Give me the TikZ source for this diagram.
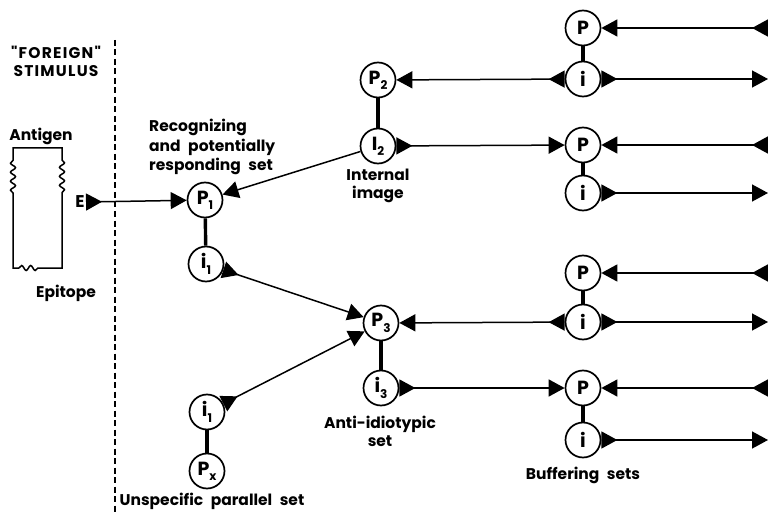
\documentclass[tikz,border=0pt]{standalone}
\usepackage{fontspec}
\setmainfont{Poppins}[WordSpace=2.3]
\newfontfamily\capsfont{Poppins}[LetterSpace=8]
\usetikzlibrary{arrows.meta,decorations.pathmorphing}
\newcommand{\sbs}[1]{\raisebox{-0.5ex}{\fontsize{12}{12}\selectfont\bfseries #1}}
\begin{document}
\begin{tikzpicture}[x=1pt,y=-1pt,
  font=\bfseries\fontsize{15.5}{18}\selectfont,
  cell/.style={circle,draw,line width=1.7pt,minimum size=35pt,inner sep=0pt,font=\bfseries\fontsize{19}{19}\selectfont},
  conn/.style={line width=1.5pt},
  hd/.style={-{Triangle[length=16pt,width=17pt]}},
  both/.style={{Triangle[reversed,length=16pt,width=17pt]}-{Triangle[length=16pt,width=17pt]}},
  link/.style={line width=3.4pt},
  lbl/.style={align=center,inner sep=0pt}]
\useasboundingbox (0,0) rectangle (768,513);

% separator
\draw[line width=1.8pt,dash pattern=on 6pt off 3.5pt] (115,40) -- (115,513);

% antigen
\draw[line width=1.5pt,decoration={snake,segment length=9pt,amplitude=2.5pt}]
  (13,268) -- (13,193) decorate{-- (13,160)} -- (13,148) -- (62,148) -- (62,160)
  decorate{-- (62,193)} -- (62,268) -- (38,268) decorate{-- (18,268)} -- cycle;

% texts
\node[lbl,font=\capsfont\bfseries\fontsize{15.5}{18}\selectfont] (fs) at (56,61) {"FOREIGN"\\STIMULUS};
\node[lbl] (ag) at (41,136) {Antigen};
\node[lbl] (ep) at (66,293) {Epitope};
\node[lbl,font=\bfseries\fontsize{17}{17}\selectfont] (E) at (80,202) {E};
\coordinate (Es) at (86,202);
\node[lbl,align=left,anchor=west,font=\bfseries\fontsize{15.5}{19.5}\selectfont] (rec) at (149,147) {Recognizing\\and potentially\\responding set};
\node[lbl] (ii) at (378,186) {Internal\\image};
\node[lbl] (ai) at (380,431) {Anti-idiotypic\\set};
\node[lbl] (up) at (212,501) {Unspecific parallel set};
\node[lbl] (bs) at (583,475) {Buffering sets};

% cells
\node[cell] (P1) at (205,200) {P\sbs{1}};
\node[cell] (i1) at (206,264) {i\sbs{1}};
\node[cell] (P2) at (378,80) {P\sbs{2}};
\node[cell] (I2) at (378,146) {I\sbs{2}};
\node[cell] (P3) at (381,323) {P\sbs{3}};
\node[cell] (i3) at (381,388) {i\sbs{3}};
\node[cell] (i1b) at (207,412) {i\sbs{1}};
\node[cell] (Px) at (207,471) {P\sbs{x}};

\node[cell] (Pa) at (583,28) {P};
\node[cell] (ia) at (583,79) {i};
\node[cell] (Pb) at (583,145) {P};
\node[cell] (ib) at (583,193) {i};
\node[cell] (Pc) at (583,273) {P};
\node[cell] (ic) at (583,322) {i};
\node[cell] (Pd) at (583,388) {P};
\node[cell] (id) at (583,440) {i};

\coordinate (ra) at (768,28);
\coordinate (rai) at (768,79);
\coordinate (rb) at (768,145);
\coordinate (rbi) at (768,193);
\coordinate (rc) at (768,273);
\coordinate (rci) at (768,322);
\coordinate (rd) at (768,388);
\coordinate (rdi) at (768,440);

% links
\foreach \a/\b in {P1/i1,P2/I2,P3/i3,i1b/Px,Pa/ia,Pb/ib,Pc/ic,Pd/id}
  \draw[link] (\a) -- (\b);

% connectors
\draw[conn,both] (Es) -- (P1);
\draw[conn,hd] (I2) -- (P1);
\draw[conn,both] (i1) -- (P3);
\draw[conn,both] (i1b) -- (P3);
\draw[conn,both] (I2) -- (Pb);
\draw[conn,both] (ia) -- (P2);
\draw[conn,both] (ic) -- (P3);
\draw[conn,both] (i3) -- (Pd);
\foreach \r/\p in {ra/Pa,rb/Pb,rc/Pc,rd/Pd}
  \draw[conn,both] (\r) -- (\p);
\foreach \i/\r in {ia/rai,ib/rbi,ic/rci,id/rdi}
  \draw[conn,both] (\i) -- (\r);
\end{tikzpicture}
\end{document}
